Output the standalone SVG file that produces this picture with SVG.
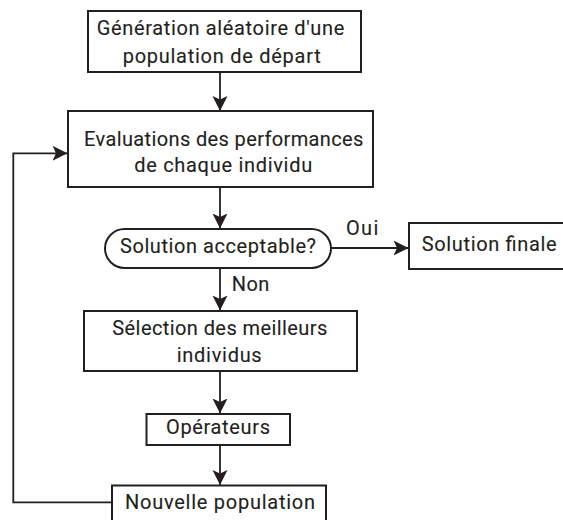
<svg xmlns="http://www.w3.org/2000/svg" width="563" height="520" viewBox="0 0 563 520">
<defs>
<style>
.box{fill:#fff;stroke:#231f20;stroke-width:2}
.ln{fill:none;stroke:#231f20;stroke-width:1.8}
.t,.l{font-family:Roboto,"Open Sans","Liberation Sans",sans-serif;font-size:20px;fill:#231f20;stroke:#231f20;stroke-width:0.12}
.t{text-anchor:middle}
.l{text-anchor:start}
</style>
<marker id="ah" markerUnits="userSpaceOnUse" markerWidth="16" markerHeight="16" refX="15" refY="8" orient="auto" viewBox="0 0 16 16">
<path d="M0,0.5 L15,8 L0,15.5 L3.5,8 Z" fill="#231f20"/>
</marker>
</defs>
<rect width="563" height="520" fill="#fff"/>
<g id="connectors">
<line class="ln" x1="220" y1="72" x2="220" y2="111" marker-end="url(#ah)"/>
<line class="ln" x1="220" y1="187" x2="220" y2="228.5" marker-end="url(#ah)"/>
<line class="ln" x1="220" y1="268" x2="220" y2="310.5" marker-end="url(#ah)"/>
<line class="ln" x1="220" y1="371" x2="220" y2="413.5" marker-end="url(#ah)"/>
<line class="ln" x1="220" y1="445" x2="220" y2="485" marker-end="url(#ah)"/>
<line class="ln" x1="331" y1="248" x2="408.5" y2="248" marker-end="url(#ah)"/>
<polyline class="ln" points="112,502.3 13.3,502.3 13.3,153.3 67.5,153.3" marker-end="url(#ah)"/>
<text class="l" x="346" y="235" textLength="32.3">Oui</text>
<text class="l" x="231.7" y="290.7" textLength="37.6">Non</text>
</g>
<g id="n1">
<rect class="box" x="88" y="11" width="273" height="61"/>
<text class="t" x="220.5" y="35" textLength="247.6">Génération aléatoire d'une</text>
<text class="t" x="221.7" y="62.7" textLength="198">population de départ</text>
</g>
<g id="n2">
<rect class="box" x="68" y="111" width="305" height="76"/>
<text class="t" x="223.7" y="145.7" textLength="279.3">Evaluations des performances</text>
<text class="t" x="223.2" y="171.7" textLength="178">de chaque individu</text>
</g>
<g id="n3">
<rect class="box" x="105" y="229" width="226" height="39" rx="19.5" ry="19.5"/>
<text class="t" x="218" y="253.3" textLength="196">Solution acceptable?</text>
</g>
<g id="n4">
<rect class="box" x="409" y="223" width="158" height="46"/>
<text class="t" x="489.2" y="250.7" textLength="135">Solution finale</text>
</g>
<g id="n5">
<rect class="box" x="84" y="311" width="273" height="60"/>
<text class="t" x="219.8" y="335" textLength="215">Sélection des meilleurs</text>
<text class="t" x="219.2" y="361.7" textLength="85">individus</text>
</g>
<g id="n6">
<rect class="box" x="146.5" y="414" width="143.5" height="31"/>
<text class="t" x="218" y="434.3" textLength="104">Opérateurs</text>
</g>
<g id="n7">
<rect class="box" x="112" y="485.5" width="214" height="40"/>
<text class="t" x="220" y="509" textLength="190">Nouvelle population</text>
</g>
</svg>
